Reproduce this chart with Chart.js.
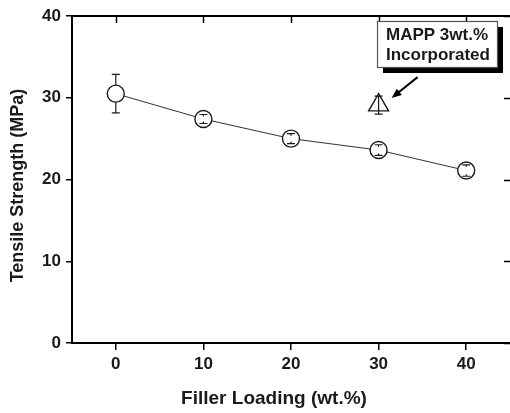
<!DOCTYPE html>
<html>
<head>
<meta charset="utf-8">
<script src="https://cdn.jsdelivr.net/npm/chart.js@4.4.0/dist/chart.umd.min.js"></script>
<style>
    html, body { margin: 0; padding: 0; background: #fff; overflow: hidden; }
</style>
</head>
<body>
<canvas id="tensileChart" width="510" height="413"></canvas>
<script>
// values
const loadings = [0, 10, 20, 30, 40];
const strength = [30.5, 27.4, 25.0, 23.6, 21.1];
const strengthErr = [2.35, 0.55, 0.6, 0.65, 0.7];
const mappLoading = [30];
const mappStrength = [29.1];
const mappErr = [1.1];
const xTicks = [0, 10, 20, 30, 40];
const yTicks = [0, 10, 20, 30, 40];
const xTitle = 'Filler Loading (wt.%)';
const yTitle = 'Tensile Strength (MPa)';
const noteLines = ['MAPP 3wt.%', 'Incorporated'];

const FONT = '"Liberation Sans", Arial, Helvetica, sans-serif';
const INK = '#1a1a1a';

/* ================= ERROR BARS ================= */
const errorBars = {
    id: 'errorBars',
    afterDatasetsDraw(chart) {
        const ctx = chart.ctx;
        const yScale = chart.scales.y;
        ctx.save();
        ctx.strokeStyle = INK;
        ctx.lineWidth = 1.2;
        chart.data.datasets.forEach((ds, i) => {
            const meta = chart.getDatasetMeta(i);
            meta.data.forEach((pt, j) => {
                const v = ds.data[j].y;
                const e = ds.errors[j];
                const r = ds.pointRadius;
                [v + e, v - e].forEach(val => {
                    const yy = yScale.getPixelForValue(val);
                    const d = yy - pt.y;
                    const s = Math.sign(d);
                    ctx.beginPath();
                    if (ds.barThrough) {
                        ctx.moveTo(pt.x, yy);
                        ctx.lineTo(pt.x, pt.y);
                    } else if (Math.abs(d) > r) {
                        ctx.moveTo(pt.x, yy);
                        ctx.lineTo(pt.x, pt.y + s * r);
                    } else {
                        ctx.moveTo(pt.x, yy);
                        ctx.lineTo(pt.x, yy - s * 2);
                    }
                    ctx.moveTo(pt.x - 4, yy);
                    ctx.lineTo(pt.x + 4, yy);
                    ctx.stroke();
                });
            });
        });
        ctx.restore();
    }
};

/* ================= FRAME (top line, inward mirror ticks, titles) ================= */
const frame = {
    id: 'frame',
    afterDraw(chart) {
        const ctx = chart.ctx;
        const area = chart.chartArea;
        const xs = chart.scales.x;
        const ys = chart.scales.y;
        ctx.save();
        ctx.strokeStyle = '#000';
        ctx.lineWidth = 2;
        ctx.beginPath();
        ctx.moveTo(area.left - 1, area.top);
        ctx.lineTo(area.right, area.top);
        ctx.stroke();
        ctx.lineWidth = 1.5;
        ctx.beginPath();
        xTicks.forEach(v => {
            const x = Math.round(xs.getPixelForValue(v)) + 0.5;
            ctx.moveTo(x, area.top);
            ctx.lineTo(x, area.top + 7);
        });
        yTicks.forEach(v => {
            const y = Math.round(ys.getPixelForValue(v)) + 0.5;
            ctx.moveTo(area.right, y);
            ctx.lineTo(area.right - 6, y);
        });
        ctx.stroke();

        // axis titles (sit a little off the plot centre in the original)
        ctx.fillStyle = INK;
        ctx.textAlign = 'center';
        ctx.textBaseline = 'middle';
        ctx.font = 'bold 19px ' + FONT;
        ctx.fillText(xTitle, area.left + 202, area.bottom + 56);
        ctx.font = 'bold 18px ' + FONT;
        ctx.translate(18, (area.top + area.bottom) / 2 + 6);
        ctx.rotate(-Math.PI / 2);
        ctx.fillText(yTitle, 0, 0);
        ctx.restore();
    }
};

/* ================= ANNOTATION ================= */
const note = {
    id: 'note',
    afterDraw(chart) {
        const pt = chart.getDatasetMeta(1).data[0];
        const ctx = chart.ctx;
        const bx = Math.round(pt.x) - 2;
        const by = Math.round(pt.y) - 84;
        const bw = 120, bh = 46;
        ctx.save();
        ctx.fillStyle = '#000';
        ctx.fillRect(bx + 6, by + 6, bw, bh);
        ctx.fillStyle = '#fff';
        ctx.fillRect(bx, by, bw, bh);
        ctx.strokeStyle = '#555';
        ctx.lineWidth = 1.2;
        ctx.strokeRect(bx + 0.5, by + 0.5, bw, bh);

        ctx.fillStyle = INK;
        ctx.font = 'bold 17px ' + FONT;
        ctx.textBaseline = 'middle';
        ctx.textAlign = 'left';
        ctx.fillText(noteLines[0], bx + 9, by + 14);
        ctx.fillText(noteLines[1], bx + 9, by + 34);

        // arrow
        const tx = pt.x + 39, ty = pt.y - 28;
        const hx = pt.x + 13, hy = pt.y - 7;
        const ang = Math.atan2(hy - ty, hx - tx);
        ctx.strokeStyle = '#000';
        ctx.lineWidth = 2;
        ctx.beginPath();
        ctx.moveTo(tx, ty);
        ctx.lineTo(hx - 6 * Math.cos(ang), hy - 6 * Math.sin(ang));
        ctx.stroke();
        ctx.fillStyle = '#000';
        ctx.beginPath();
        ctx.moveTo(hx, hy);
        ctx.lineTo(hx - 10 * Math.cos(ang) + 4 * Math.sin(ang), hy - 10 * Math.sin(ang) - 4 * Math.cos(ang));
        ctx.lineTo(hx - 10 * Math.cos(ang) - 4 * Math.sin(ang), hy - 10 * Math.sin(ang) + 4 * Math.cos(ang));
        ctx.closePath();
        ctx.fill();
        ctx.restore();
    }
};

const tickFont = { family: FONT, size: 17, weight: 'bold' };

new Chart(document.getElementById('tensileChart'), {
    type: 'scatter',
    data: {
        datasets: [{
            data: loadings.map((x, i) => ({ x: x, y: strength[i] })),
            errors: strengthErr,
            showLine: true,
            borderColor: '#333',
            borderWidth: 1,
            pointStyle: 'circle',
            pointRadius: 8.5,
            pointBackgroundColor: '#fff',
            pointBorderColor: INK,
            pointBorderWidth: 1.4
        }, {
            data: mappLoading.map((x, i) => ({ x: x, y: mappStrength[i] })),
            errors: mappErr,
            barThrough: true,
            showLine: false,
            pointStyle: 'triangle',
            pointRadius: 11.5,
            pointBackgroundColor: '#fff',
            pointBorderColor: INK,
            pointBorderWidth: 1.4
        }]
    },
    options: {
        responsive: false,
        animation: false,
        layout: { autoPadding: false, padding: { top: 16, right: 0, left: 0, bottom: 0 } },
        plugins: {
            legend: { display: false },
            tooltip: { enabled: false }
        },
        scales: {
            x: {
                type: 'linear',
                min: -5,
                max: 45,
                afterBuildTicks: s => { s.ticks = xTicks.map(v => ({ value: v })); },
                afterFit: s => { s.height = 70; s.paddingLeft = 0; s.paddingRight = 0; },
                grid: { drawOnChartArea: false, tickLength: 7, color: '#000', lineWidth: 1.5 },
                border: { color: '#000', width: 2 },
                ticks: { font: tickFont, color: INK, padding: 4, maxRotation: 0 },
                title: { display: false }
            },
            y: {
                type: 'linear',
                min: 0,
                max: 40,
                afterBuildTicks: s => { s.ticks = yTicks.map(v => ({ value: v })); },
                afterFit: s => { s.width = 72; s.paddingTop = 0; s.paddingBottom = 0; },
                grid: { drawOnChartArea: false, tickLength: 6, color: '#000', lineWidth: 1.5 },
                border: { color: '#000', width: 2 },
                ticks: { font: tickFont, color: INK, padding: 5 },
                title: { display: false }
            }
        }
    },
    plugins: [errorBars, frame, note]
});
</script>
</body>
</html>
